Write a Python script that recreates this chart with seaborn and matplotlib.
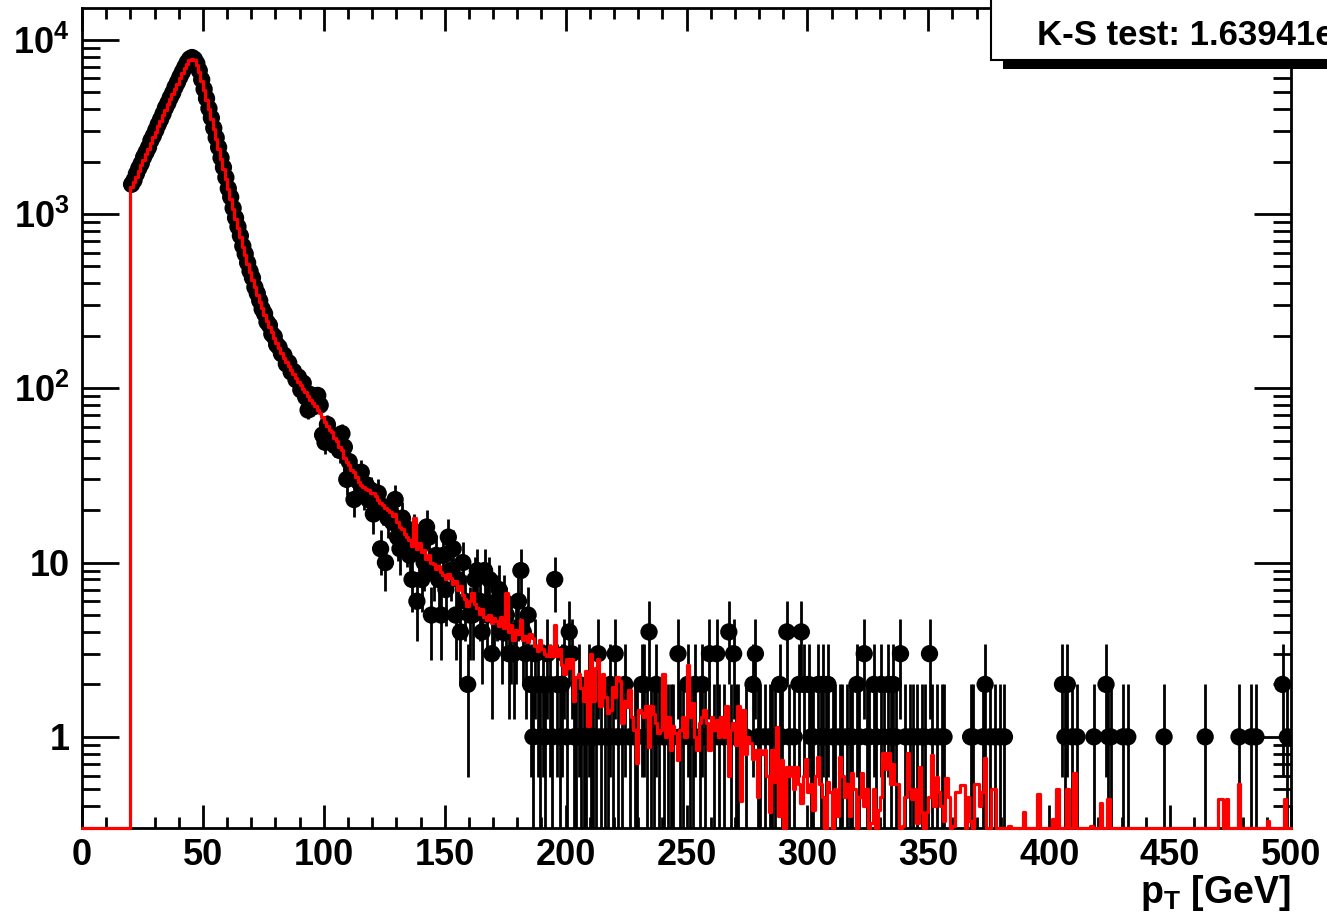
import numpy as np
import pandas as pd
import matplotlib
matplotlib.use("Agg")
import matplotlib.pyplot as plt
import seaborn as sns
from matplotlib.patches import Rectangle
from matplotlib.ticker import MultipleLocator, FixedLocator, FixedFormatter, LogLocator, NullFormatter

# ---------------- data (1 GeV bins, 0..500 GeV) ----------------
bin_edges = np.arange(0, 501, 1)

# observed counts, bins 20..199
data_core = [
    1480, 1560, 1700, 1830, 1950, 2120, 2260, 2410, 2640, 2810,
    3020, 3260, 3490, 3750, 4060, 4320, 4650, 4950, 5350, 5700,
    6120, 6530, 6950, 7400, 7750, 7900, 7720, 7300, 6650, 5900,
    5200, 4600, 4030, 3560, 3110, 2740, 2410, 2100, 1850, 1620,
    1400, 1250, 1080, 950, 845, 750, 655, 590, 525, 470,
    430, 380, 350, 318, 285, 268, 240, 230, 205, 198,
    178, 172, 158, 155, 138, 140, 124, 125, 112, 116,
    98, 107, 89, 75, 92, 78, 84, 91, 80, 54,
    49, 62, 55, 52, 47, 50, 44, 55, 46, 30,
    38, 34, 23, 31, 29, 33, 25, 28, 23, 26,
    19, 22, 25, 12, 21, 10, 18, 20, 17, 23,
    14, 12, 18, 16, 13, 11, 8, 15, 6, 12,
    8, 10, 16, 14, 5, 9, 11, 8, 5, 11,
    7, 14, 9, 12, 5, 8, 4, 10, 6, 2,
    5, 5, 8, 9, 6, 4, 9, 5, 8, 3,
    5, 6, 7, 4, 6, 5, 3, 4, 3, 4,
    6, 9, 4, 3, 5, 2, 1, 3, 2, 1,
    2, 1, 3, 2, 1, 8, 2, 1, 2, 3,
]

# observed counts in the tail (non-empty bins only), 200..499
tail_bins = [
    200, 201, 202, 203, 204, 205, 206, 207, 208, 209, 210, 211, 212, 213, 214,
    216, 217, 218, 219, 220, 221, 223, 224, 226, 228, 229, 231, 232, 233, 234,
    235, 236, 237, 238, 240, 242, 243, 244, 246, 247, 248, 250, 251, 252, 253,
    255, 256, 257, 259, 261, 262, 263, 265, 267, 268, 269, 270, 271, 274, 277,
    278, 279, 280, 282, 284, 285, 286, 288, 289, 291, 292, 294, 296, 297, 298,
    300, 301, 302, 304, 305, 306, 307, 308, 310, 311, 313, 314, 316, 317, 318,
    320, 321, 323, 324, 325, 327, 328, 330, 331, 333, 334, 335, 336, 338, 340,
    342, 343, 345, 347, 348, 350, 351, 353, 355, 356, 367, 368, 372, 373, 375,
    377, 379, 381, 405, 406, 407, 409, 411, 418, 423, 424, 425, 430, 432, 447,
    464, 478, 483, 485, 496, 498,
]
tail_counts = [
    1, 4, 3, 1, 1, 2, 1, 1, 1, 2, 1, 1, 1, 3, 1,
    1, 1, 2, 1, 3, 1, 1, 2, 1, 1, 1, 2, 2, 1, 4,
    1, 1, 2, 1, 1, 1, 1, 1, 3, 1, 1, 2, 1, 1, 2,
    1, 2, 1, 3, 1, 3, 1, 1, 4, 1, 3, 1, 1, 1, 2,
    3, 1, 1, 1, 1, 1, 1, 2, 1, 4, 1, 1, 2, 4, 2,
    2, 1, 1, 2, 1, 2, 1, 2, 1, 1, 1, 1, 1, 1, 1,
    2, 1, 3, 1, 1, 2, 1, 2, 1, 2, 1, 2, 1, 3, 1,
    1, 1, 1, 1, 1, 3, 1, 1, 1, 1, 1, 1, 1, 2, 1,
    1, 1, 1, 2, 1, 2, 1, 1, 1, 2, 1, 1, 1, 1, 1,
    1, 1, 1, 1, 2, 1,
]

# simulation (normalised), bins 20..149
mc_core = [
    1420, 1520, 1640, 1770, 1910, 2050, 2200, 2370, 2550, 2750,
    2960, 3180, 3420, 3680, 3960, 4250, 4560, 4880, 5230, 5600,
    6000, 6420, 6850, 7250, 7600, 7760, 7600, 7150, 6500, 5800,
    5150, 4520, 3980, 3500, 3070, 2700, 2370, 2070, 1810, 1590,
    1390, 1220, 1070, 940, 830, 735, 650, 580, 518, 465,
    420, 380, 345, 314, 288, 264, 243, 225, 209, 194,
    181, 170, 160, 150, 142, 134, 127, 121, 115, 109,
    104, 99, 95, 90, 86, 82, 79, 75, 72, 68,
    64, 61, 58, 56, 52, 50, 46, 44, 40, 38,
    36.5, 34, 33, 31, 29, 28, 27, 26.5, 26, 25,
    25, 24, 23, 22, 21.5, 20.5, 20, 19.5, 18.5, 19,
    17, 16, 15.5, 14.5, 14, 13.5, 12.5, 18, 12, 13,
    11.5, 11.8, 10.5, 11, 10, 9.8, 9.2, 9.5, 8.8, 8.5,
]
# simulation, bins 150..379
mc_mid = [
    8.0, 8.6, 8.2, 7.5, 7.8, 7.0, 7.3, 6.5, 6.2, 5.6,
    6.0, 6.7, 5.8, 5.5, 5.1, 5.4, 4.9, 4.7, 5.0, 4.5,
    4.8, 4.6, 4.3, 4.9, 4.2, 6.7, 4.0, 4.4, 3.6, 4.1,
    3.9, 4.7, 3.6, 3.8, 3.5, 3.9, 3.7, 3.3, 3.1, 3.6,
    3.2, 3.0, 2.9, 3.3, 2.9, 4.4, 2.9, 3.2, 2.6, 2.3,
    2.8, 2.5, 2.8, 1.6, 2.2, 2.3, 1.9, 1.6, 2.4, 1.15,
    3.0, 1.6, 2.5, 2.8, 1.5, 2.3, 1.7, 1.37, 1.43, 1.94,
    1.7, 2.2, 2.1, 1.2, 1.6, 1.49, 1.86, 1.3, 1.1, 0.71,
    1.43, 1.37, 1.3, 1.5, 0.87, 1.5, 1.35, 1.2, 1.05, 1.1,
    2.3, 1.0, 1.3, 0.84, 1.15, 1.05, 0.74, 1.1, 1.3, 1.0,
    2.6, 1.3, 1.57, 1.0, 0.84, 1.2, 1.3, 1.43, 1.2, 0.84,
    1.3, 1.1, 1.25, 1.0, 1.3, 1.0, 1.5, 0.6, 1.1, 1.2,
    0.9, 1.5, 0.43, 1.43, 0.8, 1.0, 0.92, 0.75, 0.84, 0.45,
    0.84, 0.8, 0.84, 0.6, 0.37, 0.84, 0.55, 1.14, 0.35, 0.74,
    0, 0.67, 0.6, 0.67, 0.5, 0.67, 0.54, 0.42, 0.6, 0.75,
    0.48, 0.54, 0.38, 0.6, 0.77, 0.54, 0.45, 0, 0.55, 0.48,
    0, 0.5, 0.35, 0.77, 0.6, 0.45, 0.54, 0.35, 0.62, 0.5,
    0, 0.45, 0.62, 0.4, 0.5, 0, 0.32, 0.5, 0, 0.38,
    0.45, 0.81, 0.65, 0.81, 0.54, 0.7, 0.54, 0.54, 0, 0.31,
    0.45, 0.81, 0.5, 0.44, 0.5, 0.32, 0.67, 0.37, 0, 0.37,
    0.45, 0.79, 0.4, 0.59, 0.48, 0.4, 0.33, 0.58, 0.45, 0,
    0.31, 0.48, 0.48, 0.53, 0.53, 0, 0.45, 0.33, 0, 0.54,
    0.54, 0.4, 0.48, 0.76, 0, 0, 0.5, 0.5, 0, 0,
]
# simulation, non-empty bins 380..499
mc_far_bins = [383, 389, 395, 401, 403, 407, 410, 417, 421, 424, 470, 471, 473, 475, 478, 490, 497]
mc_far_vals = [0.31, 0.37, 0.47, 0.34, 0.5, 0.5, 0.62, 0.31, 0.42, 0.44, 0.44, 0.44, 0.44, 0.3, 0.54, 0.33, 0.44]

x_ticks = [0, 50, 100, 150, 200, 250, 300, 350, 400, 450, 500]
y_ticks = [1, 10, 100, 1000, 10000]
y_tick_labels = ["1", "10", r"$\mathbf{10^{2}}$", r"$\mathbf{10^{3}}$", r"$\mathbf{10^{4}}$"]
ks_text = "K-S test: 1.63941e-01"
chi_text = "Chi2 test: 0.999988"
x_title = r"p$_{\mathbf{T}}$ [GeV]"

# ---------------- assemble histograms ----------------
nb = len(bin_edges) - 1
data = np.zeros(nb)
data[20:20 + len(data_core)] = data_core
data[np.array(tail_bins)] = tail_counts
mc = np.zeros(nb)
mc[20:20 + len(mc_core)] = mc_core
mc[150:150 + len(mc_mid)] = mc_mid
mc[np.array(mc_far_bins)] = mc_far_vals
centers = 0.5 * (bin_edges[:-1] + bin_edges[1:])

YMIN, YMAX = 0.3, 15200

# ---------------- style ----------------
sns.set_style("white")
plt.rcParams["font.family"] = ["Liberation Sans", "DejaVu Sans"]
plt.rcParams["font.weight"] = "bold"
plt.rcParams["text.color"] = "black"
plt.rcParams["axes.labelcolor"] = "black"
plt.rcParams["xtick.color"] = "black"
plt.rcParams["ytick.color"] = "black"
plt.rcParams["mathtext.fontset"] = "custom"
plt.rcParams["mathtext.rm"] = "Liberation Sans:bold"
plt.rcParams["mathtext.bf"] = "Liberation Sans:bold"
plt.rcParams["mathtext.it"] = "Liberation Sans:bold"

W, H = 1327, 921
fig = plt.figure(figsize=(W / 100, H / 100), dpi=100)
ax = fig.add_axes([82 / W, 1 - 828 / H, (1291 - 82) / W, (828 - 8) / H])
ax.set_yscale("log")

# data: error bars + markers
m = data > 0
dx = centers[m]
dy = data[m]
err = np.sqrt(dy)
lo = np.maximum(dy - err, 1e-3)
hi = dy + err
ax.vlines(dx, lo, hi, colors="black", linewidth=2.0, zorder=3)
sns.scatterplot(x=dx, y=dy, color="black", s=155, edgecolor="none", linewidth=0,
                ax=ax, zorder=4, legend=False)

# simulation: step histogram (empty bins shown on the frame bottom)
mc_df = pd.DataFrame({"pt": centers, "w": np.maximum(mc, YMIN)})
n_before = len(ax.lines)
sns.histplot(data=mc_df, x="pt", weights="w", bins=list(bin_edges), element="step",
             fill=False, color="red", linewidth=2.3, ax=ax, zorder=5)
for ln in ax.lines[n_before:]:
    ln.set_clip_on(False)

ax.set_xlim(0, 500)
ax.set_ylim(YMIN, YMAX)
ax.set_xlabel("")
ax.set_ylabel("")

# ticks
ax.xaxis.set_major_locator(FixedLocator(x_ticks))
ax.xaxis.set_major_formatter(FixedFormatter([str(t) for t in x_ticks]))
ax.xaxis.set_minor_locator(MultipleLocator(10))
ax.yaxis.set_major_locator(FixedLocator(y_ticks))
ax.yaxis.set_major_formatter(FixedFormatter(y_tick_labels))
ax.yaxis.set_minor_locator(LogLocator(base=10, subs=np.arange(2, 10), numticks=30))
ax.yaxis.set_minor_formatter(NullFormatter())

ax.tick_params(axis="x", which="major", direction="in", length=16.5, width=2,
               top=True, bottom=True, labelsize=26, pad=7, colors="black")
ax.tick_params(axis="x", which="minor", direction="in", length=8, width=2, top=True, bottom=True)
ax.tick_params(axis="y", which="major", direction="in", length=26.5, width=2,
               left=True, right=True, labelsize=26, pad=9, colors="black")
ax.tick_params(axis="y", which="minor", direction="in", length=13, width=2, left=True, right=True)
for lab in ax.get_xticklabels() + ax.get_yticklabels():
    lab.set_fontweight("bold")
for s in ax.spines.values():
    s.set_linewidth(2)
    s.set_color("black")

# x title
fig.text(1291 / W, 1 - 903 / H, x_title, ha="right", va="baseline", fontsize=27,
         fontweight="bold", color="black")

# stats box with shadow (partly outside the canvas, as in the original)
fig.add_artist(Rectangle((1003 / W, 1 - 69 / H), 400 / W, 100 / H, transform=fig.transFigure,
                         facecolor="black", edgecolor="none", zorder=10))
fig.add_artist(Rectangle((991 / W, 1 - 60 / H), 400 / W, 100 / H, transform=fig.transFigure,
                         facecolor="white", edgecolor="black", linewidth=1.5, zorder=11))
fig.text(1037 / W, 1 - 45 / H, ks_text, ha="left", va="baseline", fontsize=25,
         fontweight="bold", color="black", zorder=12)
fig.text(1037 / W, 1 + 1 / H, chi_text, ha="left", va="baseline", fontsize=25,
         fontweight="bold", color="black", zorder=12)

fig.savefig("out.png", dpi=100, facecolor="white")
